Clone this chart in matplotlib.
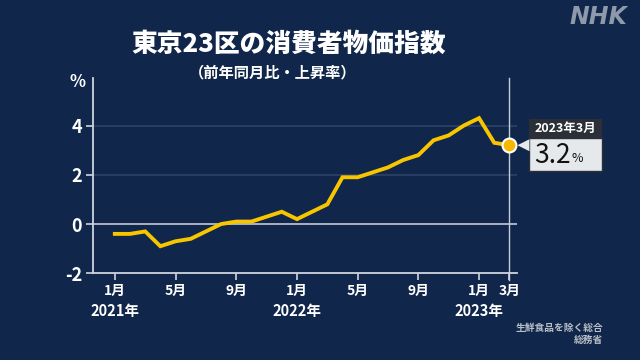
import matplotlib
matplotlib.use("Agg")
import matplotlib.pyplot as plt
from matplotlib.patches import Rectangle, Polygon

plt.rcParams['font.family'] = ['Noto Sans CJK JP', 'DejaVu Sans']

# ---- data ----
values = [-0.4, -0.4, -0.3, -0.9, -0.7, -0.6, -0.3, 0.0, 0.1, 0.1, 0.3, 0.5,
          0.2, 0.5, 0.8, 1.9, 1.9, 2.1, 2.3, 2.6, 2.8, 3.4, 3.6, 4.0,
          4.3, 3.3, 3.2]
tick_idx = [0, 4, 8, 12, 16, 20, 24, 26]
month_labels = ["1月", "5月", "9月", "1月", "5月", "9月", "1月", "3月"]
year_idx = [0, 12, 24]
year_labels = ["2021年", "2022年", "2023年"]
yticks = [-2, 0, 2, 4]
last_label = "2023年3月"

BG = '#10264a'
LINE = '#f7c600'
W, H = 640, 360

fig = plt.figure(figsize=(6.4, 3.6), dpi=100)
fig.patch.set_facecolor(BG)
ax = fig.add_axes([93.3 / W, 1 - 273.3 / H, (517 - 93.3) / W, (273.3 - 78) / H])
ax.set_facecolor(BG)
ax.set_xlim(-1.42, 26.5)
ax.set_ylim(-2, 5.93)

x = list(range(len(values)))

# grid lines
for yv in yticks[1:]:
    if yv == 0:
        ax.axhline(0, color='#a9b1bf', lw=1.4, zorder=1)
    else:
        ax.axhline(yv, color='#2c4268', lw=1.2, zorder=1)

# vertical line at latest month
ax.axvline(x[-1], color='#c8ccd4', lw=1.0, ymin=-0.035, clip_on=False, zorder=1)

ax.plot(x, values, color=LINE, lw=2.8, solid_joinstyle='miter', zorder=3)
ax.plot(x[-1], values[-1], 'o', ms=10, mfc='#f5b800', mec='white', mew=1.5, zorder=4)

for s in ['top', 'right']:
    ax.spines[s].set_visible(False)
for s in ['left', 'bottom']:
    ax.spines[s].set_color('#d0d5dd')
    ax.spines[s].set_linewidth(1.3)

ax.set_yticks(yticks)
ax.set_yticklabels([str(v) for v in yticks], fontsize=13, fontweight='bold', color='white')
ax.set_xticks(tick_idx)
ax.set_xticklabels(month_labels, fontsize=10, fontweight='bold', color='white')
ax.tick_params(axis='both', colors='#d0d5dd', length=5, width=1.2)
ax.tick_params(axis='x', labelcolor='white', pad=3)
ax.tick_params(axis='y', labelcolor='white', pad=3)

for xi, lab in zip(year_idx, year_labels):
    ax.annotate(lab, xy=(xi, 0), xycoords=('data', 'axes fraction'),
                xytext=(0, -27.5), textcoords='offset points',
                ha='center', va='center', fontsize=10.5, fontweight='bold', color='white')

# % unit
fig.text(78 / W, 1 - 82 / H, "%", ha='center', va='center', fontsize=12,
         fontweight='bold', color='white')

# titles
fig.text(289 / W, 1 - 44 / H, "東京23区の消費者物価指数", ha='center', va='center',
         fontsize=18.5, fontweight='heavy', color='white')
fig.text(273 / W, 1 - 72 / H, "（前年同月比・上昇率）", ha='center', va='center',
         fontsize=11, fontweight='bold', color='white')

# NHK logo
fig.text(598 / W, 1 - 17 / H, "NHK", ha='center', va='center', fontsize=17,
         fontweight='bold', style='italic', color='#8e99aa', family='DejaVu Sans')

# source
fig.text(603 / W, 1 - 328 / H, "生鮮食品を除く総合", ha='right', va='center',
         fontsize=7, fontweight='bold', color='#b9bfc8')
fig.text(603 / W, 1 - 340 / H, "総務省", ha='right', va='center',
         fontsize=7, fontweight='bold', color='#b9bfc8')

# callout box anchored to last point
fig.canvas.draw()
px, py = ax.transData.transform((x[-1], values[-1]))
bx0, bx1 = px + 20, px + 93
hdr = Rectangle((bx0, py + 7), bx1 - bx0, 19, transform=None, facecolor='#2b3038',
                edgecolor='none', zorder=5)
body = Rectangle((bx0, py - 26), bx1 - bx0, 33, transform=None, facecolor='#e6e9ec',
                 edgecolor='#2b3038', lw=1.0, zorder=5)
tri = Polygon([(px + 8, py), (bx0, py + 6), (bx0, py - 6)], closed=True, transform=None,
              facecolor='#e6e9ec', edgecolor='none', zorder=5)
for p in (hdr, body, tri):
    fig.add_artist(p)
fig.text((bx0 + bx1) / 2 / W, (py + 16.5) / H, last_label, ha='center', va='center',
         fontsize=9, fontweight='bold', color='white', zorder=6)
fig.text((bx0 + 5) / W, (py - 10) / H, f"{values[-1]:.1f}", ha='left', va='center',
         fontsize=19, color='#111111', zorder=6)
fig.text((bx0 + 42) / W, (py - 13) / H, "%", ha='left', va='center',
         fontsize=9, color='#111111', zorder=6)

fig.savefig("out.png", dpi=100, facecolor=BG)
